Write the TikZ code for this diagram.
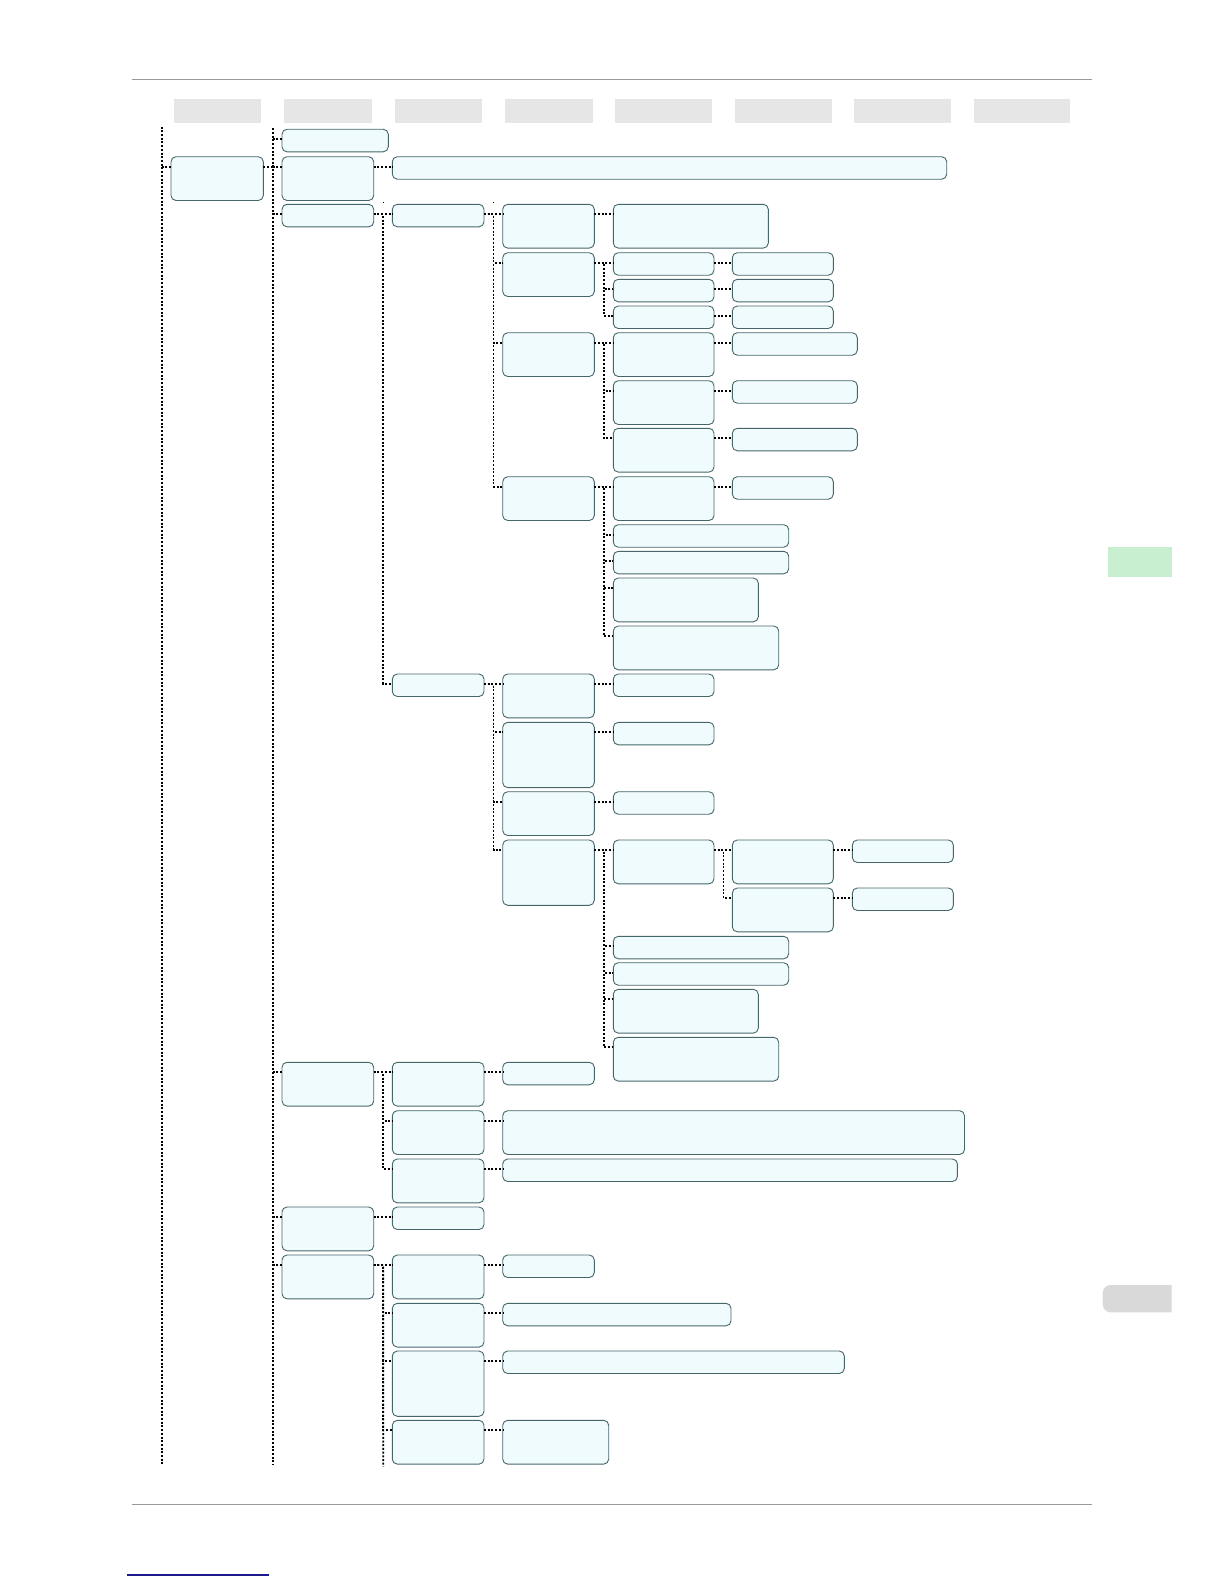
\documentclass[tikz,border=0pt]{standalone}
\usepackage{tikz}
\definecolor{boxfill}{HTML}{F0FBFD}
\definecolor{boxline}{HTML}{46676A}
\definecolor{headgray}{HTML}{E6E6E6}
\definecolor{rulegray}{HTML}{9A9A9A}
\definecolor{tabgreen}{HTML}{C8F0D0}
\definecolor{tabgray}{HTML}{D9D9D9}
\definecolor{linkblue}{HTML}{1A1A8C}
\pgfkeys{tikz/menubox/.style={draw=boxline,fill=boxfill,line width=0.9pt,rounded corners=5pt,inner sep=0pt,outer sep=0pt,anchor=north west}}
\pgfkeys{tikz/headbox/.style={fill=headgray,minimum height=23.7pt,inner sep=0pt,outer sep=0pt,anchor=north west}}
\pgfkeys{tikz/menulink/.style={black,line width=1.8pt,dash pattern=on 2pt off 1.7pt}}
\newcommand*\menuitem[4][22.5]{\node [menubox,minimum width=#4pt,minimum height=#1pt] (#2) at (#3) {};}
\newcommand*\menulink[2]{\draw [menulink] ([yshift=-10pt]#1.north east) -- ++(9.5,0) |- ([yshift=-10pt]#2.north west);}

\begin{document}
\begin{tikzpicture}[x=1pt,y=-1pt]
\useasboundingbox (0,0) rectangle (1224,1584);

% page rules, tabs
\draw [rulegray,line width=1pt] (131.7,79.3) -- (1091.7,79.3);
\draw [rulegray,line width=1pt] (131.7,1504) -- (1091.7,1504);
\draw [linkblue,line width=1.3pt] (126.7,1575) -- (269,1575);
\fill [tabgreen] (1108.3,546.7) rectangle (1171.7,577.3);
\begin{scope}
  \clip (1100,1280) rectangle (1171.7,1320);
  \fill [tabgray,rounded corners=8pt] (1102.7,1285) rectangle (1190,1312.3);
\end{scope}

% column heads
\foreach \x/\w [count=\i] in {174/86.7, 284/88, 395.3/86.7, 505/87.7, 615.3/96.7, 735/97, 854.3/96.7, 974/96}
  \node [headbox,minimum width=\w pt] (head\i) at (\x,99) {};

% boxes
\menuitem[43.8]{A}{171,156.7}{92.3}
\foreach \n/\y/\h/\w in {B1/129.3/22.5/106.3, B2/156.7/43.8/91.7, B3/204.3/22.5/91.7,
    B4/1062.3/43.8/91.7, B5/1207/43.8/91.7, B6/1255/43.8/91.7}
  {\menuitem[\h]{\n}{282,\y}{\w}}
\foreach \n/\y/\h/\w in {C0/156.7/22.5/554.4, C1/204.3/22.5/91.7, C2/674/22.5/91.7,
    C3/1062.3/43.8/91.7, C4/1110.7/43.8/91.7, C5/1159/43.8/91.7, C6/1207/22.5/91.7,
    C7/1255/43.8/91.7, C8/1303.3/43.8/91.7, C9/1351/65.3/91.7, C10/1420.3/43.8/91.7}
  {\menuitem[\h]{\n}{392.3,\y}{\w}}
\foreach \n/\y/\h/\w in {D1/204.3/43.8/91.6, D2/252.7/43.8/91.6, D3/332.7/43.8/91.6,
    D4/476.7/43.8/91.6, D5/674/43.8/91.6, D6/722.3/65.3/91.6, D7/791.7/43.8/91.6,
    D8/840/65.3/91.6, D9/1062.3/22.5/91.6, D10/1110.7/43.8/461.8, D11/1159/22.5/454.7,
    D12/1255/22.5/91.6, D13/1303.3/22.5/228.3, D14/1351/22.5/341.6, D15/1420.3/43.8/106}
  {\menuitem[\h]{\n}{502.7,\y}{\w}}
\foreach \n/\y/\h/\w in {E1/204.3/43.8/155, E2/252.7/22.5/100.7, E3/279.3/22.5/100.7,
    E4/306/22.5/100.7, E5/332.7/43.8/100.7, E6/380.7/43.8/100.7, E7/428.3/43.8/100.7,
    E8/476.7/43.8/100.7, E9/524.7/22.5/175.4, E10/551.3/22.5/175.4, E11/578/43.8/145,
    E12/626/43.8/165.4, E13/674/22.5/100.7, E14/722.3/22.5/100.7, E15/791.7/22.5/100.7,
    E16/840/43.8/100.7, E17/936.3/22.5/175.4, E18/962.7/22.5/175.4, E19/989.3/43.8/145,
    E20/1037.3/43.8/165.4}
  {\menuitem[\h]{\n}{613.3,\y}{\w}}
\foreach \n/\y/\h/\w in {F1/252.7/22.5/101, F2/279.3/22.5/101, F3/306/22.5/101,
    F4/332.7/22.5/125, F5/380.7/22.5/125, F6/428.3/22.5/125, F7/476.7/22.5/101,
    F8/840/43.8/101, F9/888/43.8/101}
  {\menuitem[\h]{\n}{732.3,\y}{\w}}
\foreach \n/\y in {G1/840, G2/888}
  {\menuitem{\n}{852.3,\y}{101}}

% trunks running on from the pages around
\coordinate (Atop) at (162.3,126.7);
\coordinate (Aend) at (162.3,1465);
\coordinate (Btop) at (272.7,128.3);
\coordinate (Bend) at (272.7,1465);
\coordinate (Cend) at (383.2,1466.7);
\draw [menulink] (Atop) -- (Aend);
\draw [menulink] ([yshift=-10pt]A.north west) -- ++(-8.7,0);
\draw [menulink] (Btop) -- (Bend);
\draw [menulink] ([yshift=-10pt]A.north east) -- ++(9.4,0);
\foreach \n in {B1,B2,B3,B4,B5,B6}
  \draw [menulink] ([yshift=-10pt]\n.north west) -- ++(-9.3,0);
\draw [menulink] ([yshift=-10pt]B6.north east) -- ++(9.5,0) -- (Cend);
\draw [line width=1.2pt] (383.2,201.5) -- (383.2,203);
\draw [line width=1.2pt] (493.5,201.5) -- (493.5,203);

% links
\foreach \p/\c in {B2/C0, B3/C1, B3/C2, B4/C3, B4/C4, B4/C5, B5/C6,
    B6/C7, B6/C8, B6/C9, B6/C10,
    C1/D1, C1/D2, C1/D3, C1/D4, C2/D5, C2/D6, C2/D7, C2/D8,
    C3/D9, C4/D10, C5/D11, C7/D12, C8/D13, C9/D14, C10/D15,
    D1/E1, D2/E2, D2/E3, D2/E4, D3/E5, D3/E6, D3/E7,
    D4/E8, D4/E9, D4/E10, D4/E11, D4/E12, D5/E13, D6/E14, D7/E15,
    D8/E16, D8/E17, D8/E18, D8/E19, D8/E20,
    E2/F1, E3/F2, E4/F3, E5/F4, E6/F5, E7/F6, E8/F7, E16/F8, E16/F9,
    F8/G1, F9/G2}
  {\menulink{\p}{\c}}

\end{tikzpicture}
\end{document}
